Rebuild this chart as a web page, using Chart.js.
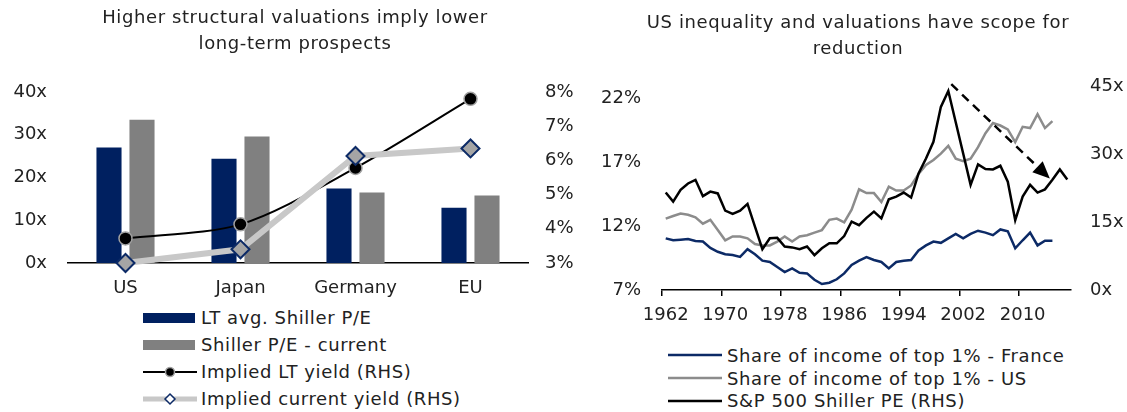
<!DOCTYPE html>
<html lang="en">
<head>
<meta charset="UTF-8">
<title>Valuations</title>
<script src="https://cdn.jsdelivr.net/npm/chart.js@4.4.1/dist/chart.umd.min.js"></script>
<style>
  body { margin: 0; background: #fff; font-family: 'DejaVu Sans', sans-serif; color: #222; }
  #wrap { position: relative; width: 1127px; height: 412px; overflow: hidden; }
  canvas { position: absolute; top: 0; }
  .title { position: absolute; text-align: center; font-size: 18px; letter-spacing: 0.6px; line-height: 26px; white-space: nowrap; }
  .legend { position: absolute; font-size: 18px; letter-spacing: 0.6px; }
  .row { display: flex; align-items: center; white-space: nowrap; }
</style>
</head>
<body>
<div id="wrap">
  <canvas id="left" width="590" height="300" style="left:0"></canvas>
  <canvas id="right" width="537" height="330" style="left:590px"></canvas>

  <div class="title" style="left:65px; width:460px; top:4px">Higher structural valuations imply lower<br>long-term prospects</div>
  <div class="title" style="left:618px; width:480px; top:9px">US inequality and valuations have scope for<br>reduction</div>

  <div class="legend" style="left:143px; top:304px">
    <div class="row" style="height:27px"><svg width="52" height="10" style="margin-right:6px"><rect width="52" height="10" fill="#002060"/></svg>LT avg. Shiller P/E</div>
    <div class="row" style="height:27px"><svg width="52" height="10" style="margin-right:6px"><rect width="52" height="10" fill="#808080"/></svg>Shiller P/E - current</div>
    <div class="row" style="height:27px"><svg width="54" height="14" style="margin-right:4px"><line x1="0" y1="7" x2="54" y2="7" stroke="#000" stroke-width="2"/><circle cx="27" cy="7" r="4.5" fill="#000" stroke="#a0a0a0" stroke-width="1.5"/></svg>Implied LT yield (RHS)</div>
    <div class="row" style="height:27px"><svg width="54" height="14" style="margin-right:4px"><line x1="0" y1="7" x2="54" y2="7" stroke="#c8c8c8" stroke-width="5" stroke-linecap="round"/><path d="M27 2 L32 7 L27 12 L22 7 Z" fill="#fff" stroke="#0c2a66" stroke-width="1.5"/></svg>Implied current yield (RHS)</div>
  </div>

  <div class="legend" style="left:668px; top:344px">
    <div class="row" style="height:22.7px"><svg width="54" height="6" style="margin-right:5px"><line x1="0" y1="3" x2="54" y2="3" stroke="#0c2a66" stroke-width="2.5"/></svg>Share of income of top 1% - France</div>
    <div class="row" style="height:22.7px"><svg width="54" height="6" style="margin-right:5px"><line x1="0" y1="3" x2="54" y2="3" stroke="#8c8c8c" stroke-width="2.5"/></svg>Share of income of top 1% - US</div>
    <div class="row" style="height:22.7px"><svg width="54" height="6" style="margin-right:5px"><line x1="0" y1="3" x2="54" y2="3" stroke="#000" stroke-width="2.5"/></svg>S&amp;P 500 Shiller PE (RHS)</div>
  </div>
</div>

<script>
  // left chart data
  const countries = ['US', 'Japan', 'Germany', 'EU'];
  const ltAvgPE = [27.0, 24.4, 17.4, 12.9];
  const currentPE = [33.5, 29.6, 16.5, 15.8];
  const ltYield = [3.72, 4.13, 5.78, 7.8];
  const currentYield = [3.0, 3.4, 6.13, 6.35];

  // right chart data
  const years = ['1962', '1963', '1964', '1965', '1966', '1967', '1968', '1969', '1970', '1971',
    '1972', '1973', '1974', '1975', '1976', '1977', '1978', '1979', '1980', '1981',
    '1982', '1983', '1984', '1985', '1986', '1987', '1988', '1989', '1990', '1991',
    '1992', '1993', '1994', '1995', '1996', '1997', '1998', '1999', '2000', '2001',
    '2002', '2003', '2004', '2005', '2006', '2007', '2008', '2009', '2010', '2011',
    '2012', '2013', '2014', '2015', '2016'];
  const franceTop1 = [11.05, 10.9, 10.95, 11.0, 10.85, 10.8, 10.3, 10.0, 9.8, 9.75,
    9.6, 10.2, 9.8, 9.3, 9.2, 8.8, 8.4, 8.7, 8.35, 8.3,
    7.8, 7.47, 7.57, 7.84, 8.3, 8.96, 9.3, 9.58, 9.35, 9.2,
    8.7, 9.2, 9.3, 9.35, 10.1, 10.5, 10.8, 10.7, 11.05, 11.4,
    11.05, 11.4, 11.65, 11.5, 11.3, 11.75, 11.6, 10.27, 10.9, 11.5,
    10.5, 10.87, 10.87];
  const usTop1 = [12.6, 12.8, 13.0, 12.9, 12.7, 12.2, 12.5, 11.7, 10.9, 11.2,
    11.2, 11.05, 10.6, 10.5, 10.5, 10.8, 11.2, 10.8, 11.2, 11.3,
    11.5, 11.7, 12.5, 12.6, 12.3, 13.3, 14.9, 14.6, 14.6, 13.9,
    15.1, 14.8, 14.8, 15.2, 16.1, 16.8, 17.2, 17.7, 18.3, 17.3,
    17.1, 17.3, 18.2, 19.3, 20.1, 19.9, 19.6, 18.6, 19.8, 19.7,
    20.8, 19.7, 20.25];
  const shillerPE = [21.5, 19.5, 22.1, 23.5, 24.3, 20.7, 21.7, 21.3, 17.5, 16.8,
    17.5, 19.0, 14.0, 9.0, 11.4, 11.5, 9.6, 9.4, 9.0, 9.6,
    7.7, 9.2, 10.3, 10.3, 11.9, 15.1, 14.3, 15.9, 17.3, 15.8,
    20.0, 20.6, 21.5, 20.4, 25.7, 29.0, 32.7, 40.4, 43.9, 37.0,
    30.1, 23.2, 27.7, 26.7, 26.6, 27.4, 23.9, 15.4, 20.6, 23.2,
    21.5, 22.2, 24.3, 26.6, 24.4];
  const shareTicks = [7, 12, 17, 22];
  // dashed trend arrow, in (year, PE) units
  const arrowFrom = [2000.4, 45.4];
  const arrowTo = [2013.65, 24.6];

  const font = { family: "'DejaVu Sans', sans-serif", size: 18 };
  const txt = '#222';

  new Chart(document.getElementById('left'), {
    type: 'bar',
    data: {
      labels: countries,
      datasets: [
        { type: 'line', label: 'Implied current yield (RHS)', data: currentYield, yAxisID: 'y1',
          borderColor: '#c8c8c8', borderWidth: 6, pointStyle: 'rectRot', pointRadius: 9,
          pointBackgroundColor: '#a5a5a5', pointBorderColor: '#0c2a66', pointBorderWidth: 2, clip: false, order: 0 },
        { type: 'line', label: 'Implied LT yield (RHS)', data: ltYield, yAxisID: 'y1',
          borderColor: '#000', borderWidth: 2, tension: 0.3, pointRadius: 6.5,
          pointBackgroundColor: '#000', pointBorderColor: '#a0a0a0', pointBorderWidth: 1.5, clip: false, order: 1 },
        { label: 'LT avg. Shiller P/E', data: ltAvgPE, backgroundColor: '#002060', yAxisID: 'y',
          categoryPercentage: 0.574, barPercentage: 0.76, order: 2 },
        { label: 'Shiller P/E - current', data: currentPE, backgroundColor: '#808080', yAxisID: 'y',
          categoryPercentage: 0.574, barPercentage: 0.76, order: 2 }
      ]
    },
    options: {
      responsive: false,
      animation: false,
      layout: { padding: { top: 92, left: 0, right: 0, bottom: 0 } },
      plugins: { legend: { display: false }, tooltip: { enabled: false } },
      scales: {
        x: {
          grid: { display: false, drawTicks: false },
          border: { display: true, color: '#000', width: 1.5 },
          ticks: { color: txt, font: font, padding: 15 },
          afterFit: s => { s.height = 37; }
        },
        y: {
          position: 'left', min: 0, max: 40,
          grid: { display: false, drawTicks: false },
          border: { display: false },
          ticks: { stepSize: 10, color: txt, font: font, padding: 21, callback: v => v + 'x' },
          afterFit: s => { s.width = 68; }
        },
        y1: {
          position: 'right', min: 3, max: 8,
          grid: { display: false, drawTicks: false },
          border: { display: false },
          ticks: { stepSize: 1, color: txt, font: font, padding: 17, callback: v => v + '%' },
          afterFit: s => { s.width = 62; }
        }
      }
    }
  });

  const trendArrow = {
    id: 'trendArrow',
    afterDatasetsDraw(chart) {
      const xs = chart.scales.x, ys = chart.scales.y1, ctx = chart.ctx;
      const base = Number(years[0]);
      const x0 = xs.getPixelForValue(arrowFrom[0] - base), y0 = ys.getPixelForValue(arrowFrom[1]);
      const x1 = xs.getPixelForValue(arrowTo[0] - base), y1 = ys.getPixelForValue(arrowTo[1]);
      const ang = Math.atan2(y1 - y0, x1 - x0);
      const head = 17, half = 7.5;
      const bx = x1 - Math.cos(ang) * head, by = y1 - Math.sin(ang) * head;
      ctx.save();
      ctx.strokeStyle = '#000';
      ctx.lineWidth = 2.5;
      ctx.setLineDash([9, 6]);
      ctx.beginPath();
      ctx.moveTo(x0, y0);
      ctx.lineTo(bx, by);
      ctx.stroke();
      ctx.setLineDash([]);
      ctx.fillStyle = '#000';
      ctx.beginPath();
      ctx.moveTo(x1, y1);
      ctx.lineTo(bx + Math.sin(ang) * half, by - Math.cos(ang) * half);
      ctx.lineTo(bx - Math.sin(ang) * half, by + Math.cos(ang) * half);
      ctx.closePath();
      ctx.fill();
      ctx.restore();
    }
  };

  new Chart(document.getElementById('right'), {
    type: 'line',
    data: {
      labels: years,
      datasets: [
        { label: 'S&P 500 Shiller PE (RHS)', data: shillerPE, yAxisID: 'y1', borderColor: '#000', order: 0 },
        { label: 'Share of income of top 1% - US', data: usTop1, yAxisID: 'y', borderColor: '#8c8c8c', order: 1 },
        { label: 'Share of income of top 1% - France', data: franceTop1, yAxisID: 'y', borderColor: '#0c2a66', order: 2 }
      ]
    },
    options: {
      responsive: false,
      animation: false,
      layout: { padding: { top: 86, left: 0, right: 0, bottom: 0 } },
      elements: { point: { radius: 0 }, line: { borderWidth: 2.5, tension: 0 } },
      plugins: { legend: { display: false }, tooltip: { enabled: false } },
      scales: {
        x: {
          offset: true,
          grid: {
            offset: true, display: true, drawOnChartArea: false, drawTicks: true, tickLength: 6, lineWidth: 1.5,
            color: c => (c.index % 8 === 0 ? '#000' : 'rgba(0,0,0,0)')
          },
          border: { display: true, color: '#000', width: 1.5 },
          ticks: {
            autoSkip: false, maxRotation: 0, color: txt, font: font, padding: 9,
            callback: (v, i) => (i % 8 === 0 ? years[i] : '')
          },
          afterFit: s => { s.height = 40; }
        },
        y: {
          position: 'left', min: 7, max: 23,
          afterBuildTicks: s => { s.ticks = shareTicks.map(v => ({ value: v })); },
          grid: { display: false, drawTicks: false },
          border: { display: false },
          ticks: { color: txt, font: font, padding: 21, callback: v => v + '%' },
          afterFit: s => { s.width = 72; }
        },
        y1: {
          position: 'right', min: 0, max: 45,
          grid: { display: false, drawTicks: false },
          border: { display: false },
          ticks: { stepSize: 15, color: txt, font: font, padding: 19, callback: v => v + 'x' },
          afterFit: s => { s.width = 56; }
        }
      }
    },
    plugins: [trendArrow]
  });
</script>
</body>
</html>
